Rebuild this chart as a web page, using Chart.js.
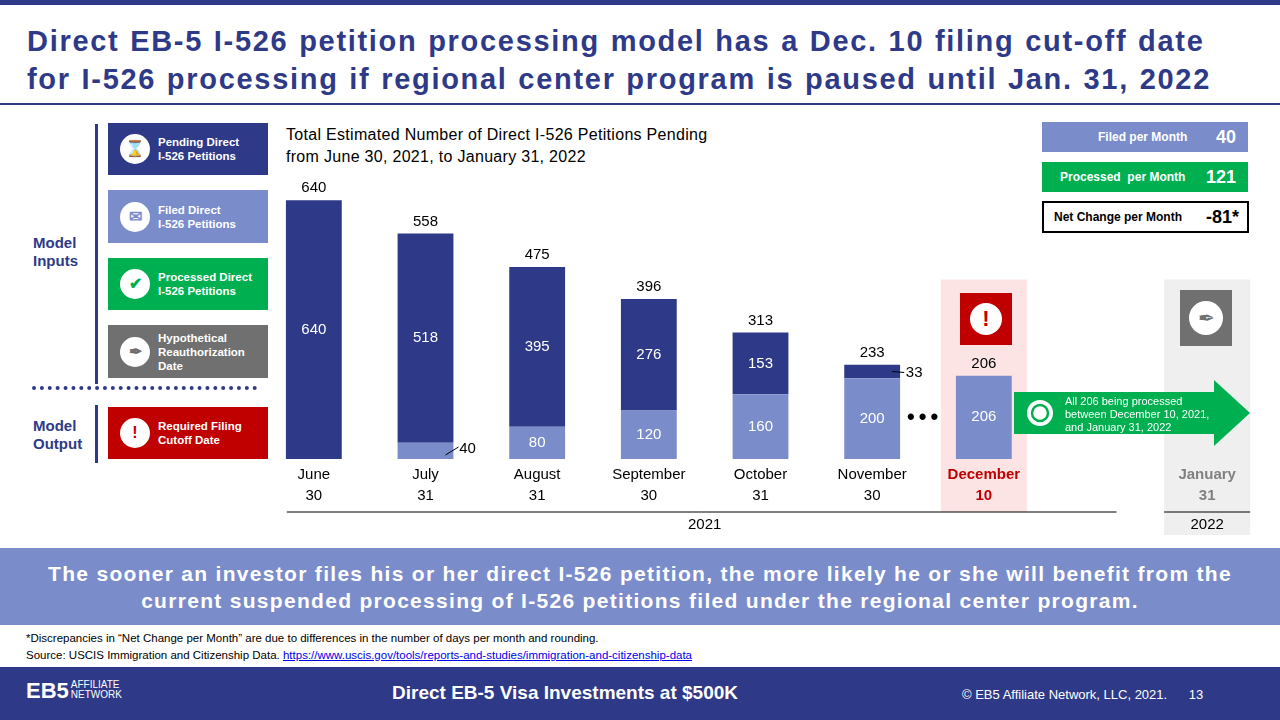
<!DOCTYPE html>
<html><head><meta charset="utf-8">
<script src="https://cdn.jsdelivr.net/npm/chart.js@4.4.0/dist/chart.umd.min.js"></script>
<style>
body{margin:0;width:1280px;height:720px;position:relative;overflow:hidden;font-family:Arial,"Liberation Sans",sans-serif;background:#fff}
.abs{position:absolute}
.box{position:absolute;left:108px;width:160px;color:#fff;font-weight:bold;font-size:11.5px;line-height:14px;display:flex;align-items:center}
.ic{width:30px;height:30px;border-radius:50%;background:#fff;margin:0 8px 0 12px;flex:none;display:flex;align-items:center;justify-content:center;font-size:16px}
.rb{position:absolute;left:1042px;width:206px;height:30px;font-weight:bold;font-size:12px;display:flex;align-items:center}
</style></head><body>
<div class="abs" style="left:0;top:0;width:1280px;height:5px;background:#2E3A87"></div>
<div class="abs" style="left:27px;top:22px;width:1250px;font-size:29px;font-weight:bold;color:#2E3A87;line-height:38px;letter-spacing:1.7px;word-spacing:1px;white-space:nowrap">Direct EB-5 I-526 petition processing model has a Dec. 10 filing cut-off date<br>for I-526 processing if regional center program is paused until Jan. 31, 2022</div>
<div class="abs" style="left:0;top:103px;width:1280px;height:2px;background:#2E3A87"></div>

<div class="abs" style="left:95px;top:124px;width:3px;height:260px;background:#2E3A87"></div>
<div class="abs" style="left:95px;top:405px;width:3px;height:58px;background:#2E3A87"></div>
<div class="abs" style="left:32px;top:386px;width:225px;border-top:4px dotted #2E3A87"></div>
<div class="abs" style="left:33px;top:234px;font-size:15px;font-weight:bold;color:#2E3A87;line-height:18px">Model<br>Inputs</div>
<div class="abs" style="left:33px;top:417px;font-size:15px;font-weight:bold;color:#2E3A87;line-height:18px">Model<br>Output</div>
<div class="box" style="top:123px;height:52px;background:#2E3A87"><div class="ic" style="color:#2E3A87">⌛</div>Pending Direct<br>I-526 Petitions</div>
<div class="box" style="top:190px;height:53px;background:#7B8CCB"><div class="ic" style="color:#7B8CCB">✉</div>Filed Direct<br>I-526 Petitions</div>
<div class="box" style="top:258px;height:52px;background:#00B050"><div class="ic" style="color:#00B050">✔</div>Processed Direct<br>I-526 Petitions</div>
<div class="box" style="top:325px;height:53px;background:#707070"><div class="ic" style="color:#707070">✒</div>Hypothetical<br>Reauthorization<br>Date</div>
<div class="box" style="top:407px;height:52px;background:#C00000"><div class="ic" style="color:#C00000;font-weight:bold">!</div>Required Filing<br>Cutoff Date</div>

<div class="abs" style="left:286px;top:124px;font-size:16px;color:#000;line-height:22px;letter-spacing:0.3px">Total Estimated Number of Direct I-526 Petitions Pending<br>from June 30, 2021, to January 31, 2022</div>

<div class="rb" style="top:122px;background:#7B8CCB;color:#fff"><span style="margin-left:56px">Filed per Month</span><span style="position:absolute;right:12px;font-size:18px">40</span></div>
<div class="rb" style="top:162px;background:#00B050;color:#fff"><span style="margin-left:18px">Processed&nbsp; per Month</span><span style="position:absolute;right:12px;font-size:18px">121</span></div>
<div class="rb" style="top:201px;background:#fff;color:#000;border:2px solid #000;width:203px;height:28px"><span style="margin-left:10px">Net Change per Month</span><span style="position:absolute;right:8px;font-size:18px">-81*</span></div>

<div class="abs" style="left:258px;top:176px;width:1005px;height:363px"><canvas id="c"></canvas></div>

<div class="abs" style="left:960px;top:293px;width:52px;height:52px;background:#C00000;display:flex;align-items:center;justify-content:center"><div style="width:32px;height:32px;border-radius:50%;background:#fff;color:#C00000;font-weight:bold;font-size:22px;text-align:center;line-height:32px">!</div></div>
<div class="abs" style="left:1180px;top:290px;width:52px;height:56px;background:#707070;display:flex;align-items:center;justify-content:center"><div style="width:34px;height:34px;border-radius:50%;background:#fff;color:#707070;font-size:20px;text-align:center;line-height:34px">✒</div></div>
<div class="abs" style="left:907px;top:404px;font-size:22px;font-weight:bold;color:#000;letter-spacing:4px">•••</div>
<svg class="abs" style="left:1014px;top:380px" width="238" height="66"><polygon points="0,12 200,12 200,0 236,33 200,66 200,54 0,54" fill="#00B050"/><circle cx="26" cy="33" r="13" fill="#fff"/><circle cx="26" cy="33" r="8" fill="none" stroke="#00B050" stroke-width="2.5"/></svg>
<div class="abs" style="left:1065px;top:395px;font-size:11px;color:#fff;line-height:13px">All 206 being processed<br>between December 10, 2021,<br>and January 31, 2022</div>

<div class="abs" style="left:0;top:548px;width:1280px;height:77px;background:#7B8CCB;color:#fff;font-weight:bold;font-size:21px;text-align:center;line-height:27px;padding-top:12px;box-sizing:border-box;letter-spacing:1.3px;white-space:nowrap">The sooner an investor files his or her direct I-526 petition, the more likely he or she will benefit from the<br>current suspended processing of I-526 petitions filed under the regional center program.</div>
<div class="abs" style="left:26px;top:630px;font-size:11.5px;line-height:17px;color:#000;font-family:'Liberation Sans Narrow',Arial">*Discrepancies in “Net Change per Month” are due to differences in the number of days per month and rounding.<br>Source: USCIS Immigration and Citizenship Data. <span style="color:#0000EE;text-decoration:underline">https://www.uscis.gov/tools/reports-and-studies/immigration-and-citizenship-data</span></div>
<div class="abs" style="left:0;top:667px;width:1280px;height:53px;background:#2E3A87"></div>
<div class="abs" style="left:26px;top:678px;color:#fff;font-weight:bold;font-size:22px;font-family:'Liberation Sans Narrow',Arial">EB5<span style="font-size:10px;font-weight:normal;display:inline-block;line-height:10px;margin-left:2px">AFFILIATE<br>NETWORK</span></div>
<div class="abs" style="left:392px;top:682px;color:#fff;font-size:19px;font-weight:bold">Direct EB-5 Visa Investments at $500K</div>
<div class="abs" style="left:962px;top:687px;color:#fff;font-size:13px">© EB5 Affiliate Network, LLC, 2021.&nbsp;&nbsp;&nbsp;&nbsp;&nbsp; 13</div>

<script>
var monthLabels = ['June', 'July', 'August', 'September', 'October', 'November', 'December', '', 'January'];
var dayLabels = ['30', '31', '31', '30', '31', '30', '10', '', '31'];
var filedValues = [0, 40, 80, 120, 160, 200, 206, 0, 0];
var pendingValues = [640, 518, 395, 276, 153, 33, 0, 0, 0];
var totalValues = [640, 558, 475, 396, 313, 233, 206, null, null];
var labelColors = ['#000', '#000', '#000', '#000', '#000', '#000', '#C00000', '#000', '#808080'];

var overlay = {
    id: 'overlay',
    beforeDatasetsDraw: function (chart) {
        var ctx = chart.ctx, x = chart.scales.x, y = chart.scales.y, b = chart.chartArea.bottom;
        var top = y.getPixelForValue(444);
        ctx.save();
        ctx.fillStyle = '#FCE4E4';
        ctx.fillRect(x.getPixelForValue(6) - 43, top, 86, b + 53 - top);
        ctx.fillStyle = '#EFEFEF';
        ctx.fillRect(x.getPixelForValue(8) - 43, top, 86, b + 76 - top);
        ctx.restore();
    },
    afterDatasetsDraw: function (chart) {
        var ctx = chart.ctx, x = chart.scales.x, y = chart.scales.y, b = chart.chartArea.bottom;
        ctx.save();
        ctx.textAlign = 'center';
        ctx.textBaseline = 'middle';
        ctx.font = '15px Arial';
        var lo = chart.getDatasetMeta(0).data, hi = chart.getDatasetMeta(1).data;
        for (var i = 0; i < monthLabels.length; i++) {
            var cx = x.getPixelForValue(i);
            if (filedValues[i] > 40) {
                ctx.fillStyle = '#fff';
                ctx.fillText(filedValues[i], cx, (lo[i].y + lo[i].base) / 2);
            }
            if (pendingValues[i] > 33) {
                ctx.fillStyle = '#fff';
                ctx.fillText(pendingValues[i], cx, (hi[i].y + hi[i].base) / 2);
            }
            if (totalValues[i] !== null) {
                ctx.fillStyle = '#000';
                ctx.fillText(totalValues[i], cx, y.getPixelForValue(totalValues[i]) - 12);
            }
            ctx.font = (i >= 6 ? 'bold ' : '') + '15px Arial';
            ctx.fillStyle = labelColors[i];
            ctx.fillText(monthLabels[i], cx, b + 16);
            ctx.fillText(dayLabels[i], cx, b + 37);
            ctx.font = '15px Arial';
        }
        ctx.strokeStyle = '#000';
        ctx.lineWidth = 1;
        ctx.fillStyle = '#000';
        var p = lo[1];
        ctx.beginPath(); ctx.moveTo(p.x + 20, p.base - 4); ctx.lineTo(p.x + 33, p.base - 12); ctx.stroke();
        ctx.fillText(filedValues[1], p.x + 42, p.base - 10);
        var q = hi[5];
        ctx.beginPath(); ctx.moveTo(q.x + 20, (q.y + q.base) / 2); ctx.lineTo(q.x + 32, (q.y + q.base) / 2 + 1); ctx.stroke();
        ctx.fillText(pendingValues[5], q.x + 42, (q.y + q.base) / 2 + 1);
        ctx.beginPath();
        ctx.moveTo(x.getPixelForValue(0) - 27, b + 53); ctx.lineTo(x.getPixelForValue(7) + 21, b + 53);
        ctx.moveTo(x.getPixelForValue(8) - 43, b + 53); ctx.lineTo(x.getPixelForValue(8) + 43, b + 53);
        ctx.stroke();
        ctx.fillText('2021', (x.getPixelForValue(3) + x.getPixelForValue(4)) / 2, b + 66);
        ctx.fillText('2022', x.getPixelForValue(8), b + 66);
        ctx.restore();
    }
};

new Chart(document.getElementById('c'), {
    type: 'bar',
    data: {
        labels: monthLabels,
        datasets: [
            { label: 'Filed', data: filedValues, backgroundColor: '#7B8CCB' },
            { label: 'Pending', data: pendingValues, backgroundColor: '#2E3A87' }
        ]
    },
    options: {
        responsive: true, maintainAspectRatio: false, animation: false,
        layout: { padding: { bottom: 80 } },
        barPercentage: 0.5, categoryPercentage: 1,
        plugins: { legend: { display: false }, tooltip: { enabled: false } },
        scales: {
            x: { stacked: true, display: false },
            y: { stacked: true, display: false, min: 0, max: 700 }
        }
    },
    plugins: [overlay]
});
</script>
</body></html>
